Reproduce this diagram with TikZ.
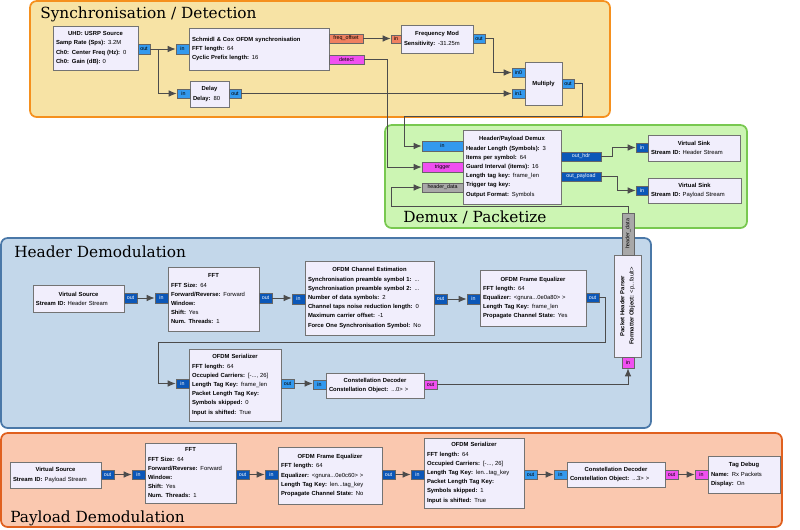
\documentclass[tikz,border=0pt]{standalone}
\usepackage{fontspec}
\setmainfont{Liberation Sans}
\newfontfamily\ttlfont{DejaVu Serif}
\usetikzlibrary{arrows.meta}
\definecolor{blkf}{HTML}{F1EEFC}
\definecolor{lb}{HTML}{3399EE}
\definecolor{db}{HTML}{0B57B8}
\definecolor{sal}{HTML}{F08060}
\definecolor{mag}{HTML}{F050F0}
\definecolor{gr}{HTML}{A8A8A8}
\definecolor{syf}{HTML}{F7E3A5}
\definecolor{syd}{HTML}{F5901E}
\definecolor{dmf}{HTML}{CCF5B3}
\definecolor{dmd}{HTML}{78C850}
\definecolor{hdf}{HTML}{C3D7EA}
\definecolor{hdd}{HTML}{4A78A8}
\definecolor{pyf}{HTML}{FAC8AF}
\definecolor{pyd}{HTML}{E0601E}
\tikzset{
 blk/.style={draw=black!55,fill=blkf,line width=0.7pt,inner sep=0pt,align=left,font=\fontsize{4.4}{6.9}\selectfont},
 prt/.style={draw=black!60,line width=0.5pt,inner sep=0pt,font=\fontsize{4}{5}\selectfont},
 wire/.style={draw=black!70,line width=0.7pt},
 arr/.style={wire,-{Latex[length=6pt,width=5pt]}},
 grp/.style={rounded corners=5pt,line width=1.3pt},
 ttl/.style={anchor=west,inner sep=0pt,font=\ttlfont\fontsize{11.5}{13}\selectfont}
}
\newcommand\blk[6]{\pgfmathsetmacro\bw{(#4-#2-6)*0.75}\node[blk,minimum width={(#4-#2)*0.75pt},minimum height={(#5-#3)*0.75pt},text width=\bw pt] (#1) at ({(#2+#4)/2},{(#3+#5)/2}) {#6};}
\newcommand\prt[7]{\node[prt,fill=#6,minimum width={(#4-#2)*0.75pt},minimum height={(#5-#3)*0.75pt}] (#1) at ({(#2+#4)/2},{(#3+#5)/2}) {#7};}
\newcommand\ti[1]{\makebox[\linewidth][c]{\textbf{#1}}}
\newcommand\kv[2]{\textbf{#1:} #2}
\begin{document}
\begin{tikzpicture}[x=0.75pt,y=-0.75pt]
\useasboundingbox (0,0) rectangle (800,529);
% groups
\draw[grp,fill=syf,draw=syd] (30,1) rectangle (610,117);
\node[ttl] (tsync) at (40,14) {Synchronisation / Detection};
\draw[grp,fill=dmf,draw=dmd] (385,125) rectangle (747,228);
\node[ttl] (tdemux) at (403,217) {Demux / Packetize};
\draw[grp,fill=hdf,draw=hdd] (1,238) rectangle (651,428);
\node[ttl] (thdr) at (14,252) {Header Demodulation};
\draw[grp,fill=pyf,draw=pyd] (1,433) rectangle (782,527);
\node[ttl] (tpay) at (10,518) {Payload Demodulation};
% sync blocks
\blk{usrp}{53}{26}{138}{70}{\ti{UHD: USRP Source}\\\kv{Samp Rate (Sps)}{3.2M}\\\kv{Ch0: Center Freq (Hz)}{0}\\\kv{Ch0: Gain (dB)}{0}}
\prt{usrpout}{138}{44}{150}{54}{lb}{out}
\blk{sc}{189}{28}{329}{70}{\textbf{Schmidl \& Cox OFDM synchronisation}\\\kv{FFT length}{64}\\\kv{Cyclic Prefix length}{16}}
\prt{scin}{176}{44}{189}{54}{lb}{in}
\prt{scfo}{329}{34}{363}{43}{sal}{freq\_offset}
\prt{scdet}{329}{55}{364}{64}{mag}{detect}
\blk{fm}{401}{25}{473}{53}{\ti{Frequency Mod}\\\kv{Sensitivity}{-31.25m}}
\prt{fmin}{391}{35}{401}{43}{sal}{in}
\prt{fmout}{473}{34}{485}{43}{lb}{out}
\blk{dl}{190}{81}{229}{107}{\ti{Delay}\\\kv{Delay}{80}}
\prt{dlin}{177}{89}{190}{98}{lb}{in}
\prt{dlout}{229}{89}{241}{98}{lb}{out}
\blk{mul}{525}{62}{562}{105}{\ti{Multiply}}
\prt{mulin0}{512}{68}{525}{77}{lb}{in0}
\prt{mulin1}{512}{89}{525}{98}{lb}{in1}
\prt{mulout}{562}{79}{574}{88}{lb}{out}
% demux
\blk{dmx}{463}{130}{561}{204}{\ti{Header/Payload Demux}\\\kv{Header Length (Symbols)}{3}\\\kv{Items per symbol}{64}\\\kv{Guard Interval (items)}{16}\\\kv{Length tag key}{frame\_len}\\\kv{Trigger tag key}{}\\\kv{Output Format}{Symbols}}
\prt{dmxin}{422}{141}{463}{151}{lb}{in}
\prt{dmxtr}{422}{162}{463}{172}{mag}{trigger}
\prt{dmxhd}{422}{183}{463}{192}{gr}{header\_data}
\prt{dmxoh}{561}{152}{601}{161}{db}{\color{white}out\_hdr}
\prt{dmxop}{561}{172}{601}{181}{db}{\color{white}out\_payload}
\blk{vs1}{648}{135}{740}{161}{\ti{Virtual Sink}\\\kv{Stream ID}{Header Stream}}
\prt{vs1in}{636}{143}{648}{152}{db}{\color{white}in}
\blk{vs2}{648}{178}{741}{203}{\ti{Virtual Sink}\\\kv{Stream ID}{Payload Stream}}
\prt{vs2in}{636}{186}{648}{195}{db}{\color{white}in}
% packet header parser
\node[blk,minimum width={102*0.75pt},minimum height={27*0.75pt},rotate=90,align=center] (php) at (627.5,306) {\textbf{Packet Header Parser}\\\kv{Formatter Object}{<p...fault>}};
\node[prt,fill=gr,minimum width={42*0.75pt},minimum height={12*0.75pt},rotate=90] (phphd) at (628,234) {header\_data};
\prt{phpin}{622}{357}{634}{368}{mag}{in}
% header row
\blk{hvs}{33}{285}{124}{312}{\ti{Virtual Source}\\\kv{Stream ID}{Header Stream}}
\prt{hvsout}{124}{293}{137}{303}{db}{\color{white}out}
\blk{hfft}{168}{267}{259}{331}{\ti{FFT}\\\kv{FFT Size}{64}\\\kv{Forward/Reverse}{Forward}\\\kv{Window}{}\\\kv{Shift}{Yes}\\\kv{Num. Threads}{1}}
\prt{hfftin}{155}{293}{168}{303}{db}{\color{white}in}
\prt{hfftout}{259}{293}{272}{303}{db}{\color{white}out}
\blk{hce}{305}{261}{434}{335}{\ti{OFDM Channel Estimation}\\\kv{Synchronisation preamble symbol 1}{...}\\\kv{Synchronisation preamble symbol 2}{...}\\\kv{Number of data symbols}{2}\\\kv{Channel taps noise reduction length}{0}\\\kv{Maximum carrier offset}{-1}\\\kv{Force One Synchronisation Symbol}{No}}
\prt{hcein}{292}{294}{305}{304}{db}{\color{white}in}
\prt{hceout}{434}{294}{447}{304}{db}{\color{white}out}
\blk{heq}{480}{270}{586}{326}{\ti{OFDM Frame Equalizer}\\\kv{FFT length}{64}\\\kv{Equalizer}{<gnura...0e0a80> >}\\\kv{Length Tag Key}{frame\_len}\\\kv{Propagate Channel State}{Yes}}
\prt{heqin}{467}{294}{480}{304}{db}{\color{white}in}
\prt{heqout}{586}{293}{599}{302}{db}{\color{white}out}
\blk{hser}{189}{349}{281}{421}{\ti{OFDM Serializer}\\\kv{FFT length}{64}\\\kv{Occupied Carriers}{[-..., 26]}\\\kv{Length Tag Key}{frame\_len}\\\kv{Packet Length Tag Key}{}\\\kv{Symbols skipped}{0}\\\kv{Input is shifted}{True}}
\prt{hserin}{176}{379}{189}{388}{db}{\color{white}in}
\prt{hserout}{281}{379}{294}{388}{lb}{out}
\blk{hcd}{326}{373}{424}{398}{\ti{Constellation Decoder}\\\kv{Constellation Object}{...0> >}}
\prt{hcdin}{313}{380}{326}{389}{lb}{in}
\prt{hcdout}{424}{380}{437}{389}{mag}{out}
% payload row
\blk{pvs}{10}{462}{101}{488}{\ti{Virtual Source}\\\kv{Stream ID}{Payload Stream}}
\prt{pvsout}{101}{470}{114}{479}{db}{\color{white}out}
\blk{pfft}{145}{443}{236}{503}{\ti{FFT}\\\kv{FFT Size}{64}\\\kv{Forward/Reverse}{Forward}\\\kv{Window}{}\\\kv{Shift}{Yes}\\\kv{Num. Threads}{1}}
\prt{pfftin}{132}{470}{145}{479}{db}{\color{white}in}
\prt{pfftout}{236}{470}{249}{479}{db}{\color{white}out}
\blk{peq}{278}{447}{382}{504}{\ti{OFDM Frame Equalizer}\\\kv{FFT length}{64}\\\kv{Equalizer}{<gnura...0e0c60> >}\\\kv{Length Tag Key}{len...tag\_key}\\\kv{Propagate Channel State}{No}}
\prt{peqin}{265}{470}{278}{479}{db}{\color{white}in}
\prt{peqout}{382}{470}{395}{479}{db}{\color{white}out}
\blk{pser}{424}{438}{524}{508}{\ti{OFDM Serializer}\\\kv{FFT length}{64}\\\kv{Occupied Carriers}{[-..., 26]}\\\kv{Length Tag Key}{len...tag\_key}\\\kv{Packet Length Tag Key}{}\\\kv{Symbols skipped}{1}\\\kv{Input is shifted}{True}}
\prt{pserin}{411}{470}{424}{479}{db}{\color{white}in}
\prt{pserout}{524}{470}{537}{479}{lb}{out}
\blk{pcd}{567}{462}{665}{487}{\ti{Constellation Decoder}\\\kv{Constellation Object}{...3> >}}
\prt{pcdin}{554}{470}{567}{479}{lb}{in}
\prt{pcdout}{665}{470}{678}{479}{mag}{out}
\blk{td}{708}{456}{780}{493}{\ti{Tag Debug}\\\kv{Name}{Rx Packets}\\\kv{Display}{On}}
\prt{tdin}{695}{470}{708}{479}{mag}{in}
% connectors
\draw[arr] (usrpout.east) -- (scin.west |- usrpout.east);
\draw[arr] (usrpout.east) -- ++(8,0) |- (dlin.west);
\draw[arr] (scfo.east) -- (fmin.west |- scfo.east);
\draw[arr] (fmout.east) -- ++(8,0) |- (mulin0.west);
\draw[arr] (dlout.east) -- (mulin1.west |- dlout.east);
\draw[arr] (scdet.east) -- (387,59.5) |- (dmxtr.west);
\draw[arr] (mulout.east) -- (582,83.5) -- (582,116) -- (404,116) |- (dmxin.west);
\draw[arr] (dmxoh.east) -- (612,156.5) |- (vs1in.west);
\draw[arr] (dmxop.east) -- (617,176.5) |- (vs2in.west);
\draw[arr] (phphd.east) -- (628,206) -- (391,206) |- (dmxhd.west);
\draw[arr] (hvsout.east) -- (hfftin.west);
\draw[arr] (hfftout.east) -- (hcein.west |- hfftout.east);
\draw[arr] (hceout.east) -- (heqin.west);
\draw[arr] (heqout.east) -- (605,297.5) -- (605,342) -- (158,342) |- (hserin.west);
\draw[arr] (hserout.east) -- (hcdin.west |- hserout.east);
\draw[arr] (hcdout.east) -| (phpin.south);
\draw[arr] (pvsout.east) -- (pfftin.west);
\draw[arr] (pfftout.east) -- (peqin.west);
\draw[arr] (peqout.east) -- (pserin.west);
\draw[arr] (pserout.east) -- (pcdin.west);
\draw[arr] (pcdout.east) -- (tdin.west);
\end{tikzpicture}
\end{document}
